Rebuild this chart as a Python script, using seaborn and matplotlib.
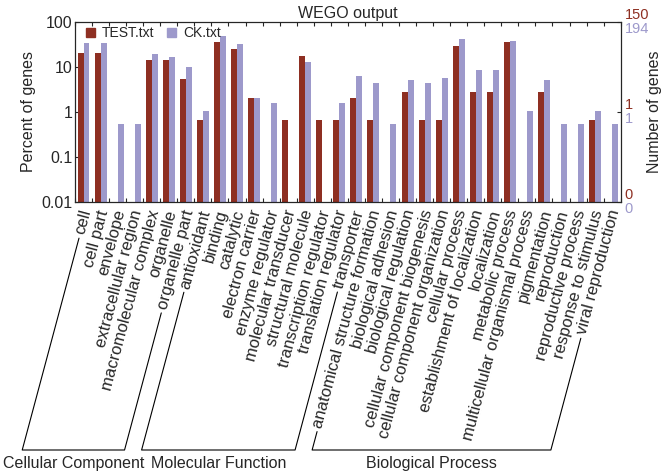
import matplotlib.pyplot as plt
import seaborn as sns
import numpy as np
import pandas as pd
from matplotlib.lines import Line2D
from matplotlib.patches import Patch
from matplotlib.ticker import NullLocator
from matplotlib import transforms

# ==========================================
# DATA (percent of genes per GO term)
# ==========================================
categories = [
    "cell", "cell part", "envelope", "extracellular region", "macromolecular complex",
    "organelle", "organelle part",
    "antioxidant", "binding", "catalytic", "electron carrier", "enzyme regulator",
    "molecular transducer", "structural molecule", "transcription regulator",
    "translation regulator", "transporter",
    "anatomical structure formation", "biological adhesion", "biological regulation",
    "cellular component biogenesis", "cellular component organization", "cellular process",
    "establishment of localization", "localization", "metabolic process",
    "multicellular organismal process", "pigmentation", "reproduction",
    "reproductive process", "response to stimulus", "viral reproduction",
]
groups = ["Cellular Component", "Molecular Function", "Biological Process"]
group_sizes = [7, 10, 15]

nan = np.nan
test_pct = [20.0, 20.0, nan, nan, 14.3, 14.3, 5.3,
            0.67, 34.7, 24.7, 2.0, nan, 0.67, 17.3, 0.67, 0.67, 2.0,
            0.67, nan, 2.8, 0.67, 0.67, 29.3, 2.8, 2.8, 34.7, nan, 2.8, nan, nan, 0.67, nan]
ck_pct = [33.0, 33.0, 0.52, 0.52, 19.6, 16.5, 9.8,
          1.03, 47.4, 31.4, 2.06, 1.55, nan, 12.9, nan, 1.55, 6.2,
          4.4, 0.52, 5.1, 4.4, 5.6, 41.2, 8.3, 8.3, 37.6, 1.03, 5.1, 0.52, 0.52, 1.03, 0.52]

series = ["TEST.txt", "CK.txt"]
colors = ["#8e2f22", "#9d99cb"]

right_ticks = [100, 1, 0.01]
test_counts = ["150", "1", "0"]
ck_counts = ["194", "1", "0"]

# ==========================================
# FIGURE
# ==========================================
sns.set_style("ticks")
plt.rcParams['font.family'] = ['Liberation Sans', 'DejaVu Sans']

n = len(categories)
df = pd.DataFrame({
    "category": categories * 2,
    "percent": test_pct + ck_pct,
    "file": [series[0]] * n + [series[1]] * n,
})

fig = plt.figure(figsize=(6.71, 4.73), dpi=100)
ax = fig.add_axes([75 / 671, 1 - 201.7 / 473, 545.7 / 671, 180 / 473])

sns.barplot(data=df, x="category", y="percent", hue="file", order=categories,
            hue_order=series, palette=colors, width=0.7, gap=0, saturation=1,
            linewidth=0, edgecolor="none", legend=False, ax=ax)
ax.set_yscale("log")

ax.set_xlim(-0.5, n - 0.5)
ax.set_ylim(0.01, 100)
ax.set_yticks([0.01, 0.1, 1, 10, 100])
ax.set_yticklabels(["0.01", "0.1", "1", "10", "100"])
ax.yaxis.set_minor_locator(NullLocator())
ax.tick_params(axis="y", direction="in", length=3, width=0.8, labelsize=11.5, pad=2)

ax.set_xticks(range(n))
ax.set_xticks(np.arange(-0.5, n, 1), minor=True)
ax.set_xticklabels(categories, rotation=75, ha="right", va="center",
                   rotation_mode="anchor", fontsize=12)
ax.tick_params(axis="x", which="major", length=0, pad=6)
ax.tick_params(axis="x", which="minor", direction="in", length=3, width=0.8,
               top=True, bottom=True)
shift = transforms.ScaledTranslation(3 / 100, 0, fig.dpi_scale_trans)
for lbl in ax.get_xticklabels():
    lbl.set_transform(lbl.get_transform() + shift)

ax.set_xlabel("")
ax.set_ylabel("Percent of genes", fontsize=11.5, labelpad=4)
ax.set_title("WEGO output", fontsize=11.5, pad=3)
for sp in ax.spines.values():
    sp.set_linewidth(0.8)
    sp.set_color("black")

ax.legend([Patch(color=c) for c in colors], series, loc="upper left",
          bbox_to_anchor=(0.005, 1.02), ncol=2, frameon=False, fontsize=10,
          handlelength=0.65, handleheight=0.65, handletextpad=0.5,
          columnspacing=0.9, borderaxespad=0.2)

# axe de droite : nombre de gènes
ax2 = ax.twinx()
ax2.set_yscale("log")
ax2.set_ylim(0.01, 100)
ax2.set_yticks(right_ticks)
ax2.set_yticklabels([])
ax2.yaxis.set_minor_locator(NullLocator())
ax2.tick_params(axis="y", direction="in", length=3, width=0.8)
for sp in ax2.spines.values():
    sp.set_linewidth(0.8)
trans = transforms.blended_transform_factory(ax2.transAxes, ax2.transData)
for t, a, b in zip(right_ticks, test_counts, ck_counts):
    ax2.text(1.0, t, a, color=colors[0], fontsize=10.5, ha="left", va="center",
             transform=transforms.offset_copy(trans, fig=fig, x=4, y=7, units="dots"))
    ax2.text(1.0, t, b, color=colors[1], fontsize=10.5, ha="left", va="center",
             transform=transforms.offset_copy(trans, fig=fig, x=4, y=-7, units="dots"))
fig.text(655 / 671, 1 - 112 / 473, "Number of genes", rotation=90,
         ha="center", va="center", fontsize=11.5)

# ==========================================
# CROCHETS DES GROUPES GO
# ==========================================
fig.canvas.draw()
renderer = fig.canvas.get_renderer()
labels = ax.get_xticklabels()
ang = np.deg2rad(75)
c, s = np.cos(ang), np.sin(ang)
u = np.array([c, s])


def debut_label(lbl):
    bb = lbl.get_window_extent(renderer)
    h = (bb.width * s - bb.height * c) / (s * s - c * c)
    return np.array([bb.x0 + h * s / 2, bb.y0 + h * c / 2])


base_y = 473 - 450
gap = 4
idx = 0
inv = fig.transFigure.inverted()
for g, size in zip(groups, group_sizes):
    p1 = debut_label(labels[idx])
    p2 = debut_label(labels[idx + size - 1])
    top1 = p1 - gap * u
    top2 = p2 - gap * u
    foot1 = p1 - ((p1[1] - base_y) / s) * u
    foot2 = p2 - ((p2[1] - base_y) / s) * u
    pts = inv.transform(np.array([top1, foot1, foot2, top2]))
    fig.add_artist(Line2D(pts[:, 0], pts[:, 1], transform=fig.transFigure,
                          color="black", linewidth=0.8))
    xc = (pts[1, 0] + pts[2, 0]) / 2
    fig.text(xc, 10 / 473, g, ha="center", va="center", fontsize=11.5)
    idx += size

fig.savefig("out.png", dpi=100)
